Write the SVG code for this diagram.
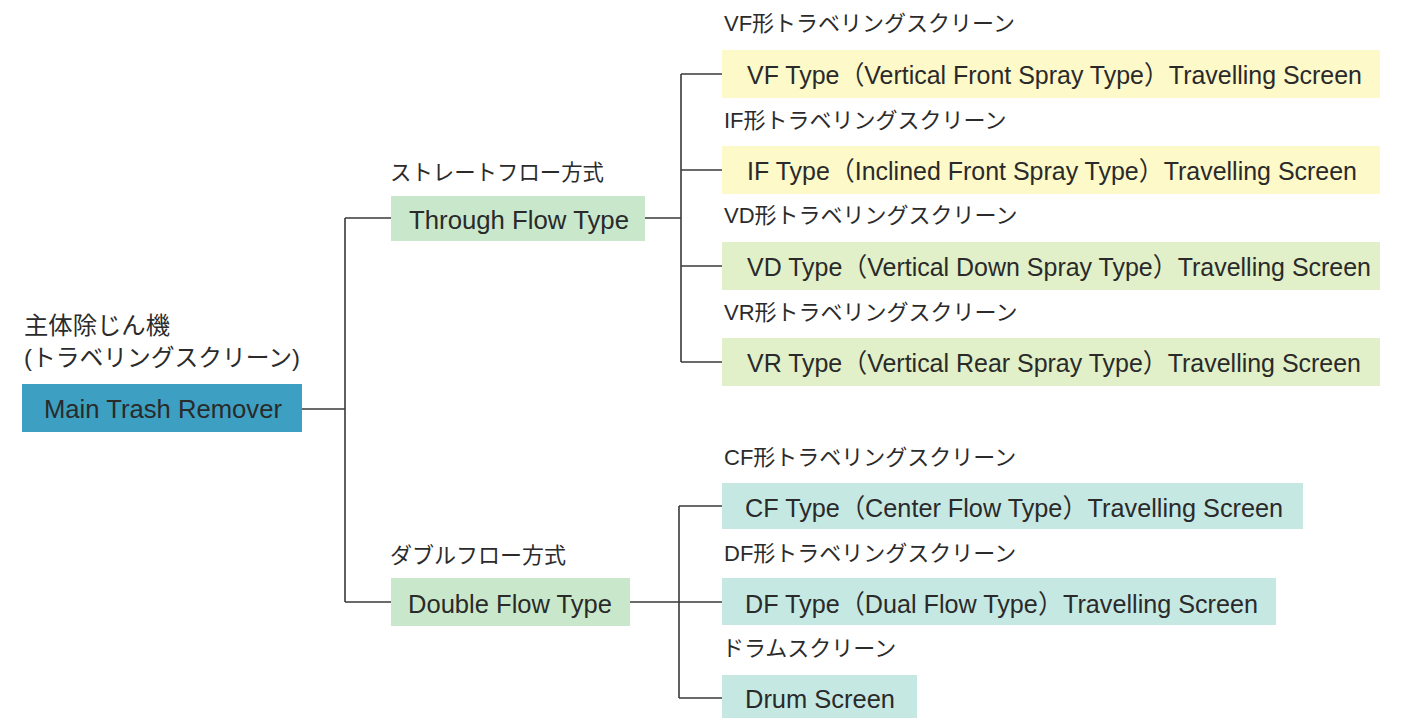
<svg xmlns="http://www.w3.org/2000/svg" width="1407" height="718" viewBox="0 0 1407 718">
<style>
.lbl{font-family:"Liberation Sans","Noto Sans CJK JP",sans-serif;font-size:22px;fill:#2b2b2b}
.big{font-size:24px}
.t{font-family:"Liberation Sans","Noto Sans CJK JP",sans-serif;font-size:26px;fill:#2a2a2a}
.con{fill:none;stroke:#3a3a3a;stroke-width:1.6}
.blue{fill:#3da0c2}
.g1{fill:#c9e8cb}
.yel{fill:#fdf9c8}
.g2{fill:#e1f0c8}
.tq{fill:#c6e8e3}
</style>
<rect width="1407" height="718" fill="#ffffff"/>
<g id="connectors">
<path class="con" d="M302 409H345M345 218V602M345 218H391M345 602H391"/>
<path class="con" d="M645 218H681M681 74V362M681 74H722M681 170H722M681 266H722M681 362H722"/>
<path class="con" d="M630 602H722M679 506V698M679 506H722M679 698H722"/>
</g>
<g id="main">
<text class="lbl big" x="24" y="334" textLength="146" lengthAdjust="spacingAndGlyphs">主体除じん機</text>
<text class="lbl big" x="24" y="366" textLength="276" lengthAdjust="spacingAndGlyphs">(トラベリングスクリーン)</text>
<rect class="blue" x="22" y="384" width="280" height="48"/>
<text class="t" x="163" y="418" text-anchor="middle" textLength="238" lengthAdjust="spacingAndGlyphs">Main Trash Remover</text>
</g>
<g id="through">
<text class="lbl" x="390" y="180" textLength="214" lengthAdjust="spacingAndGlyphs">ストレートフロー方式</text>
<rect class="g1" x="391" y="196" width="254" height="45"/>
<text class="t" x="519" y="229" text-anchor="middle" textLength="220" lengthAdjust="spacingAndGlyphs">Through Flow Type</text>
</g>
<g id="double">
<text class="lbl" x="390" y="563">ダブルフロー方式</text>
<rect class="g1" x="391" y="578" width="239" height="48"/>
<text class="t" x="510" y="613" text-anchor="middle" textLength="204" lengthAdjust="spacingAndGlyphs">Double Flow Type</text>
</g>
<g id="vf">
<text class="lbl" x="724" y="31">VF形トラベリングスクリーン</text>
<rect class="yel" x="722" y="50" width="658" height="48"/>
<text class="t" x="747" y="84" textLength="615" lengthAdjust="spacingAndGlyphs">VF Type（Vertical Front Spray Type）Travelling Screen</text>
</g>
<g id="if">
<text class="lbl" x="724" y="128">IF形トラベリングスクリーン</text>
<rect class="yel" x="722" y="146" width="658" height="48"/>
<text class="t" x="747" y="180" textLength="610" lengthAdjust="spacingAndGlyphs">IF Type（Inclined Front Spray Type）Travelling Screen</text>
</g>
<g id="vd">
<text class="lbl" x="724" y="223">VD形トラベリングスクリーン</text>
<rect class="g2" x="722" y="242" width="658" height="48"/>
<text class="t" x="747" y="276" textLength="624" lengthAdjust="spacingAndGlyphs">VD Type（Vertical Down Spray Type）Travelling Screen</text>
</g>
<g id="vr">
<text class="lbl" x="724" y="320">VR形トラベリングスクリーン</text>
<rect class="g2" x="722" y="338" width="658" height="48"/>
<text class="t" x="747" y="372" textLength="614" lengthAdjust="spacingAndGlyphs">VR Type（Vertical Rear Spray Type）Travelling Screen</text>
</g>
<g id="cf">
<text class="lbl" x="724" y="465">CF形トラベリングスクリーン</text>
<rect class="tq" x="722" y="483" width="581" height="46"/>
<text class="t" x="745" y="517" textLength="538" lengthAdjust="spacingAndGlyphs">CF Type（Center Flow  Type）Travelling Screen</text>
</g>
<g id="df">
<text class="lbl" x="724" y="561">DF形トラベリングスクリーン</text>
<rect class="tq" x="722" y="578" width="554" height="47"/>
<text class="t" x="745" y="613" textLength="513" lengthAdjust="spacingAndGlyphs">DF Type（Dual Flow  Type）Travelling Screen</text>
</g>
<g id="drum">
<text class="lbl" x="722" y="656">ドラムスクリーン</text>
<rect class="tq" x="722" y="675" width="195" height="43"/>
<text class="t" x="745" y="708" textLength="150" lengthAdjust="spacingAndGlyphs">Drum Screen</text>
</g>
</svg>
